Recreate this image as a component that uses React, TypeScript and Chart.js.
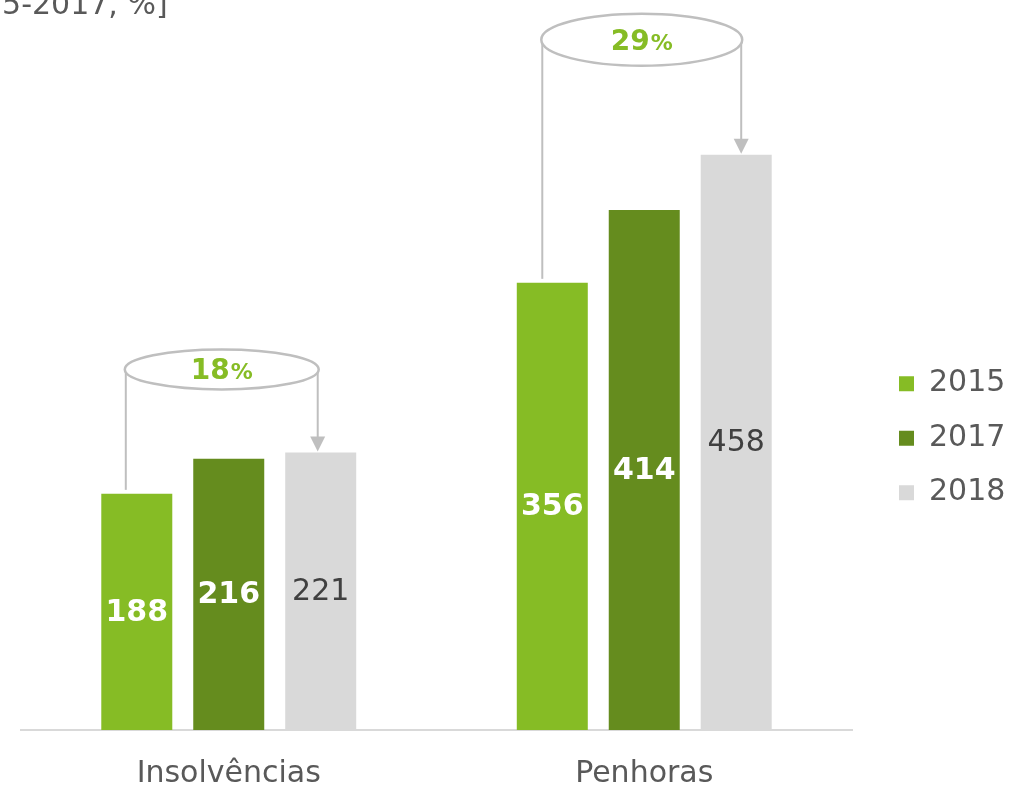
import React, { useEffect, useRef } from "react";
import { Chart, registerables } from "chart.js";

Chart.register(...registerables);

// ---- data ----
const categories = ["Insolvências", "Penhoras"];
const years = ["2015", "2017", "2018"];
const values2015 = [188, 356];
const values2017 = [216, 414];
const values2018 = [221, 458];
const growthLabels = ["18%", "29%"];
const titleText = "2015-2017, %]";

// ---- styles ----
const COLORS = ["#86BC25", "#658C1E", "#D9D9D9"];
const FONT = "'DejaVu Sans', Verdana, sans-serif";
const ANNOT = [
  { lift: 83, ry: 20, leftDx: -11, rightDx: -3 },
  { lift: 115, ry: 26, leftDx: -10, rightDx: 5 },
];

const valueLabelPlugin = {
  id: "valueLabels",
  afterDatasetsDraw(chart: any) {
    const ctx = chart.ctx;
    ctx.save();
    ctx.textAlign = "center";
    ctx.textBaseline = "middle";
    chart.data.datasets.forEach((ds: any, i: number) => {
      const meta = chart.getDatasetMeta(i);
      meta.data.forEach((bar: any, j: number) => {
        const p = bar.getProps(["x", "y", "base"], true);
        const inside = i < 2;
        ctx.font = `${inside ? "bold " : ""}30px ${FONT}`;
        ctx.fillStyle = inside ? "#FFFFFF" : "#404040";
        ctx.fillText(String(ds.data[j]), p.x, (p.y + p.base) / 2 + 1);
      });
    });
    ctx.restore();
  },
};

const annotationPlugin = {
  id: "growthAnnotations",
  afterDraw(chart: any) {
    const ctx = chart.ctx;
    const m0 = chart.getDatasetMeta(0);
    const m2 = chart.getDatasetMeta(2);
    ctx.save();
    categories.forEach((_c, j) => {
      const a = ANNOT[j];
      const b0 = m0.data[j].getProps(["x", "y"], true);
      const b2 = m2.data[j].getProps(["x", "y"], true);
      const cy = b2.y - a.lift;
      const lx = b0.x + a.leftDx;
      const rx = b2.x + a.rightDx;
      const cx = (lx + rx) / 2;
      const radX = (rx - lx) / 2 + 1;
      ctx.strokeStyle = "#BFBFBF";
      ctx.fillStyle = "#BFBFBF";
      ctx.lineWidth = 2;
      // left line
      ctx.beginPath();
      ctx.moveTo(lx, cy);
      ctx.lineTo(lx, b0.y - 4);
      ctx.stroke();
      // right line with arrow
      const tip = b2.y - 1;
      ctx.beginPath();
      ctx.moveTo(rx, cy);
      ctx.lineTo(rx, tip - 14);
      ctx.stroke();
      ctx.beginPath();
      ctx.moveTo(rx - 7.5, tip - 15);
      ctx.lineTo(rx + 7.5, tip - 15);
      ctx.lineTo(rx, tip);
      ctx.closePath();
      ctx.fill();
      // ellipse
      ctx.beginPath();
      ctx.ellipse(cx, cy, radX, a.ry, 0, 0, Math.PI * 2);
      ctx.fillStyle = "#FFFFFF";
      ctx.fill();
      ctx.lineWidth = 2.5;
      ctx.stroke();
      // text
      const label = growthLabels[j];
      const num = label.replace("%", "");
      ctx.font = `bold 28px ${FONT}`;
      const wNum = ctx.measureText(num).width;
      ctx.font = `bold 22px ${FONT}`;
      const wPct = ctx.measureText("%").width;
      const start = cx - (wNum + 1 + wPct) / 2;
      const base = cy + 10;
      ctx.fillStyle = "#86BC25";
      ctx.textAlign = "left";
      ctx.textBaseline = "alphabetic";
      ctx.font = `bold 28px ${FONT}`;
      ctx.fillText(num, start, base);
      ctx.font = `bold 22px ${FONT}`;
      ctx.fillText("%", start + wNum + 1, base);
    });
    // cropped title at top-left
    ctx.font = `30px ${FONT}`;
    ctx.fillStyle = "#595959";
    ctx.textAlign = "left";
    ctx.textBaseline = "alphabetic";
    const x0 = 32 - ctx.measureText("2015-").width;
    ctx.fillText(titleText, x0, 13.5);
    ctx.restore();
  },
};

export default function App() {
  const ref = useRef<HTMLCanvasElement | null>(null);
  useEffect(() => {
    if (!ref.current) return;
    const chart = new Chart(ref.current, {
      type: "bar",
      data: {
        labels: categories,
        datasets: [
          { label: years[0], data: values2015, backgroundColor: COLORS[0] },
          { label: years[1], data: values2017, backgroundColor: COLORS[1] },
          { label: years[2], data: values2018, backgroundColor: COLORS[2] },
        ],
      },
      options: {
        responsive: false,
        animation: false,
        devicePixelRatio: 1,
        layout: { padding: { left: 21, top: 89.4, right: 0, bottom: 0 } },
        datasets: {
          bar: { categoryPercentage: 0.664, barPercentage: 0.772 },
        },
        scales: {
          x: {
            grid: { display: false },
            border: { display: true, color: "#D9D9D9", width: 2 },
            ticks: {
              color: "#595959",
              padding: 18,
              font: { family: FONT, size: 30 },
            },
            afterFit: (s: any) => {
              s.height = 57;
            },
          },
          y: {
            position: "right",
            min: 0,
            max: 510,
            grid: { display: false },
            border: { display: false },
            ticks: { display: false },
            afterFit: (s: any) => {
              s.width = 22.5;
            },
          },
        },
        plugins: {
          legend: {
            position: "right",
            maxWidth: 135.5,
            labels: {
              boxWidth: 15,
              boxHeight: 15,
              padding: 24.5,
              color: "#595959",
              font: { family: FONT, size: 30 },
            },
          },
          tooltip: { enabled: false },
        },
      },
      plugins: [valueLabelPlugin, annotationPlugin],
    } as any);
    return () => chart.destroy();
  }, []);
  return (
    <div style={{ position: "fixed", left: 0, top: 0, width: 1010, height: 787, background: "#fff" }}>
      <canvas ref={ref} width={1010} height={787} style={{ display: "block" }} />
    </div>
  );
}
